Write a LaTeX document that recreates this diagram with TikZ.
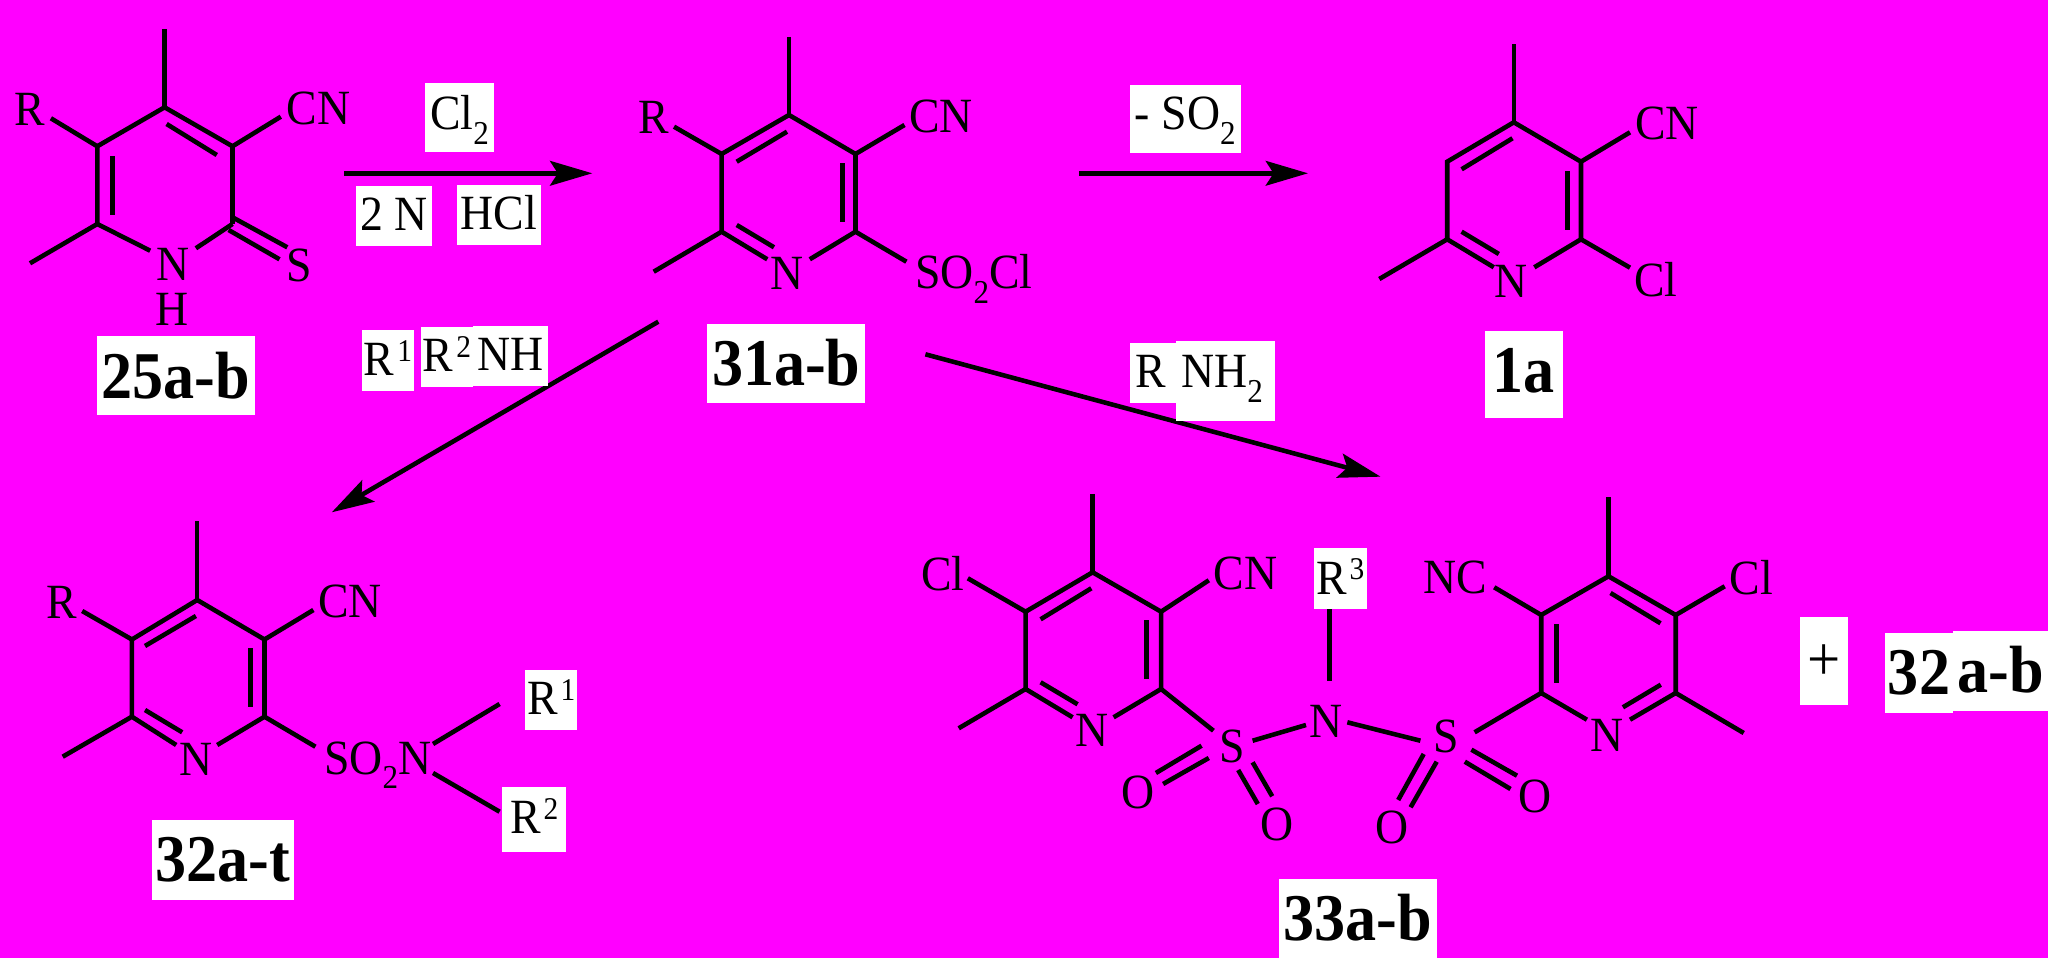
\documentclass[tikz,border=0pt]{standalone}
\usepackage{fontspec}
\setmainfont[FakeStretch=0.93]{Liberation Serif}
\usetikzlibrary{arrows.meta}
\definecolor{bgmagenta}{RGB}{255,0,255}
\newcommand{\lowtwo}{\raisebox{-4.2pt}{\fontsize{9.5}{10}\selectfont 2}}
\newcommand{\upnum}[1]{\kern0.8pt\raisebox{4pt}{\fontsize{9}{10}\selectfont #1}}
\tikzset{
bond/.style={line width=1.3pt},
rxn/.style={line width=1.3pt,-{Stealth[length=12pt,width=7pt,inset=2.2pt]}},
atom/.style={font=\fontsize{14}{16}\selectfont,inner sep=0pt},
whitebox/.style n args={3}{fill=white,inner sep=0pt,anchor=base,font=\fontsize{14}{16}\selectfont,minimum width=#1*0.01cm,text height=#2*0.01cm,text depth=#3*0.01cm},
cmpd/.style n args={3}{fill=white,inner sep=0pt,anchor=base,font=\fontsize{19}{21}\selectfont\bfseries,minimum width=#1*0.01cm,text height=#2*0.01cm,text depth=#3*0.01cm}
}

\begin{document}
\begin{tikzpicture}[x=0.01cm,y=-0.01cm]
\fill[bgmagenta] (0,0) rectangle (2048,958);
\useasboundingbox (0,0) rectangle (2048,958);

%%Compound 25
\begin{scope}[shift={(164.6,107.3)}]
\draw[bond] (0,-78) -- (0,0);
\draw[bond] (-67.3,116.7) -- (-67.3,39) -- (0,0) -- (67.9,39) -- (67.9,116.7);
\draw[bond] (-52.3,48.7) -- (-52.3,107.7);
\draw[bond] (2,16.7) -- (52.2,47.7);
\draw[bond] (-134.6,156) -- (-67.3,116.7) -- (-14.4,143.4);
\draw[bond] (31.3,141) -- (67.9,116.7);
\draw[bond] (67.9,110) -- (122.7,140);
\draw[bond] (64,122.7) -- (114.9,152);
\draw[bond] (-67.3,39) -- (-113.7,11);
\draw[bond] (67.9,39) -- (116.2,9.4);
\node[atom] (n25) at (8.4,157.2) {N};
\node[atom] (h25) at (7.2,202) {H};
\node[atom] (s25) at (135.1,158.2) {S};
\node[atom] (r25) at (-134.7,2.4) {R};
\node[atom] (cn25) at (153.8,1.5) {CN};
\end{scope}
\node[cmpd={157.4}{62.3}{16.7}] (lab25) at (176,398.3) {25a-b};

%%Compound 31
\begin{scope}[shift={(789,115)}]
\draw[bond] (0,-78) -- (0,0);
\draw[bond] (-67.4,116.7) -- (-67.4,39) -- (0,0) -- (66.5,39) -- (66.5,116.7);
\draw[bond] (-52.3,46.7) -- (-2,16.7);
\draw[bond] (53.4,48.3) -- (53.4,107.3);
\draw[bond] (-52.3,110) -- (-15,132.3);
\draw[bond] (-135.3,156.7) -- (-67.4,116.7) -- (-21.7,144.3);
\draw[bond] (20.8,144.3) -- (66.5,116.7) -- (117.4,146.7);
\draw[bond] (-67.4,39) -- (-115,11.7);
\draw[bond] (66.5,39) -- (115.5,10);
\node[atom] (n31) at (-2,158) {N};
\node[atom] (r31) at (-134.8,2.7) {R};
\node[atom] (cn31) at (152,1) {CN};
\node[atom,anchor=base west] (so31) at (125.3,174) {SO\lowtwo Cl};
\end{scope}

%%Compound 1a
\begin{scope}[shift={(1513.8,122.3)}]
\draw[bond] (0,-78) -- (0,0);
\draw[bond] (-66.6,117) -- (-66.6,39.4) -- (0,0) -- (67.2,39.4) -- (67.2,117);
\draw[bond] (-52.2,47) -- (-1.3,16);
\draw[bond] (53.5,49) -- (53.5,108);
\draw[bond] (-52.2,109.4) -- (-15,131.7);
\draw[bond] (-134.5,156.7) -- (-66.6,117) -- (-20,145);
\draw[bond] (20.5,145) -- (67.2,117) -- (116.2,145.4);
\draw[bond] (67.2,39.4) -- (116.2,10);
\node[atom] (n1a) at (-2.6,158.7) {N};
\node[atom] (cl1a) at (142.2,157.7) {Cl};
\node[atom] (cn1a) at (153.2,1) {CN};
\end{scope}

%%Compound 32
\begin{scope}[shift={(197.2,600)}]
\draw[bond] (0,-78.7) -- (0,0);
\draw[bond] (-65.3,116.7) -- (-65.3,39.5) -- (0,0) -- (67.3,39.5) -- (67.3,116.7);
\draw[bond] (-52.2,46) -- (-1.3,16);
\draw[bond] (53.2,48.3) -- (53.2,107.3);
\draw[bond] (-52.2,110) -- (-15,132.3);
\draw[bond] (-134.5,156.7) -- (-65.3,116.7) -- (-21,145);
\draw[bond] (20,145) -- (67.3,116.7) -- (118.2,146.7);
\draw[bond] (-65.3,39.5) -- (-115,11);
\draw[bond] (67.3,39.5) -- (116.2,10);
\draw[bond] (235.8,144) -- (302.4,104);
\draw[bond] (235.8,173) -- (302.4,211.7);
\node[atom] (n32) at (-1.2,159) {N};
\node[atom] (r32) at (-135.2,2) {R};
\node[atom] (cn32) at (152.8,1.7) {CN};
\node[atom,anchor=base west] (so32) at (126.1,174) {SO\lowtwo N};
\end{scope}
\node[whitebox={52.3}{45}{15}] (ra32) at (551.2,715) {R\upnum{1}};
\node[whitebox={64}{46.3}{18.7}] (rb32) at (534.2,833.3) {R\upnum{2}};
\node[cmpd={141.7}{61.3}{18.7}] (lab32) at (223,881.3) {32a-t};

%%Compound 33, left ring
\begin{scope}[shift={(1092.6,572.3)}]
\draw[bond] (0,-78.3) -- (0,0);
\draw[bond] (-67,116.7) -- (-67,39.4) -- (0,0) -- (68.5,39.4) -- (68.5,116.7);
\draw[bond] (-52,47) -- (-1.3,16);
\draw[bond] (54,48) -- (54,107);
\draw[bond] (-52,110) -- (-15,132);
\draw[bond] (-133.9,156) -- (-67,116.7) -- (-20,145);
\draw[bond] (21,145) -- (68.5,116.7) -- (120.8,158.4);
\draw[bond] (-67,39.4) -- (-124.8,6);
\draw[bond] (68.5,39.4) -- (116.2,8);
\node[atom] (n33) at (-0.6,158.4) {N};
\node[atom] (cl33) at (-149.6,1.7) {Cl};
\node[atom] (cn33) at (153.1,1.2) {CN};
\end{scope}

%%Compound 33, right ring
\begin{scope}[shift={(1608.5,576.3)}]
\draw[bond] (0,-79) -- (0,0);
\draw[bond] (-67.3,116.7) -- (-67.3,38.7) -- (0,0) -- (67.2,38.7) -- (67.2,116.7);
\draw[bond] (2,16.7) -- (52,47);
\draw[bond] (-52,48) -- (-52,107);
\draw[bond] (14.4,131) -- (52.3,108.4);
\draw[bond] (135.2,156.7) -- (67.2,116.7) -- (21.5,143.4);
\draw[bond] (-21.6,143.4) -- (-67.3,116.7) -- (-133.9,156);
\draw[bond] (67.2,38.7) -- (116.2,10);
\draw[bond] (-67.3,38.7) -- (-114.3,11);
\node[atom] (n33b) at (-1.3,158.7) {N};
\node[atom] (cl33b) at (142.7,1) {Cl};
\node[atom] (nc33b) at (-153.5,1.5) {NC};
\end{scope}

%%The sulfonyl bridge
\node[atom] (sa) at (1232.3,746.4) {S};
\node[atom] (nb) at (1326.4,721.7) {N};
\node[atom] (sb) at (1446.5,736.7) {S};
\node[atom] (oa) at (1138.3,792.3) {O};
\node[atom] (ob) at (1277.4,824.7) {O};
\node[atom] (oc) at (1391.7,827.3) {O};
\node[atom] (od) at (1534.7,796.7) {O};
\draw[bond] (1252.6,740.7) -- (1306,725);
\draw[bond] (1347.3,722.3) -- (1420.4,740.7);
\draw[bond] (1329.6,609) -- (1329.6,680.7);
\draw[bond] (1201.6,745.7) -- (1155.9,773);
\draw[bond] (1208.8,758) -- (1163.1,784);
\draw[bond] (1238.2,770) -- (1257.8,804);
\draw[bond] (1252.6,762.3) -- (1272.2,796.3);
\draw[bond] (1423.7,754) -- (1398.2,800);
\draw[bond] (1436.7,761.7) -- (1410.6,807.3);
\draw[bond] (1471.4,749.7) -- (1517,775.7);
\draw[bond] (1464.8,761.7) -- (1510.5,789);
\node[whitebox={53}{46}{15}] (rc33) at (1340.4,594) {R\upnum{3}};
\node[cmpd={158}{61.7}{17.3}] (lab33) at (1357.7,940.7) {33a-b};
\node[whitebox={48.3}{63}{25}] (plus) at (1824,680) {\fontsize{18}{20}\selectfont +};
\node[cmpd={68.6}{61}{19}] (labxx) at (1919,694) {32};
\node[cmpd={94.7}{61.3}{18.7}] (labab) at (2000.7,692.3) {a-b};

%%The arrows
\coordinate (ar1s) at (344,173.3);
\coordinate (ar1e) at (592.3,173.3);
\coordinate (ar2s) at (1078.9,173.3);
\coordinate (ar2e) at (1308,173.3);
\coordinate (ar3s) at (658.3,321.7);
\coordinate (ar3e) at (331.8,512.3);
\coordinate (ar4s) at (925.4,354.3);
\coordinate (ar4e) at (1380.6,476.7);
\draw[rxn] (ar1s) -- (ar1e);
\draw[rxn] (ar2s) -- (ar2e);
\draw[rxn] (ar3s) -- (ar3e);
\draw[rxn] (ar4s) -- (ar4e);

%%Reagents and labels over the arrows
\node[whitebox={68.6}{47}{22}] (cltwo) at (459.4,130) {Cl\lowtwo};
\node[whitebox={75.7}{45}{15}] (ntwo) at (393.8,231) {2 N};
\node[whitebox={83.6}{45}{15}] (hcl) at (499,230) {HCl};
\node[whitebox={52.2}{45.7}{15.3}] (rone) at (388,375.7) {R\upnum{1}};
\node[whitebox={51.6}{44.7}{15.3}] (rtwo) at (447,371.7) {R\upnum{2}};
\node[whitebox={75.2}{44.7}{15.3}] (nh) at (510.4,370.7) {NH};
\node[whitebox={111}{45}{23}] (sotwo) at (1185.3,130) {- SO\lowtwo};
\node[whitebox={46.4}{45}{15}] (rthree) at (1153,388) {R\kern1.5pt};
\node[whitebox={98.6}{46.3}{33.7}] (nhtwo) at (1225.5,387.3) {NH\lowtwo\kern2pt};
\node[cmpd={158}{62}{17}] (lab31) at (786.3,386) {31a-b};
\node[cmpd={77.8}{61.7}{25.3}] (lab1a) at (1523.9,392.7) {1a};
\end{tikzpicture}
\end{document}
